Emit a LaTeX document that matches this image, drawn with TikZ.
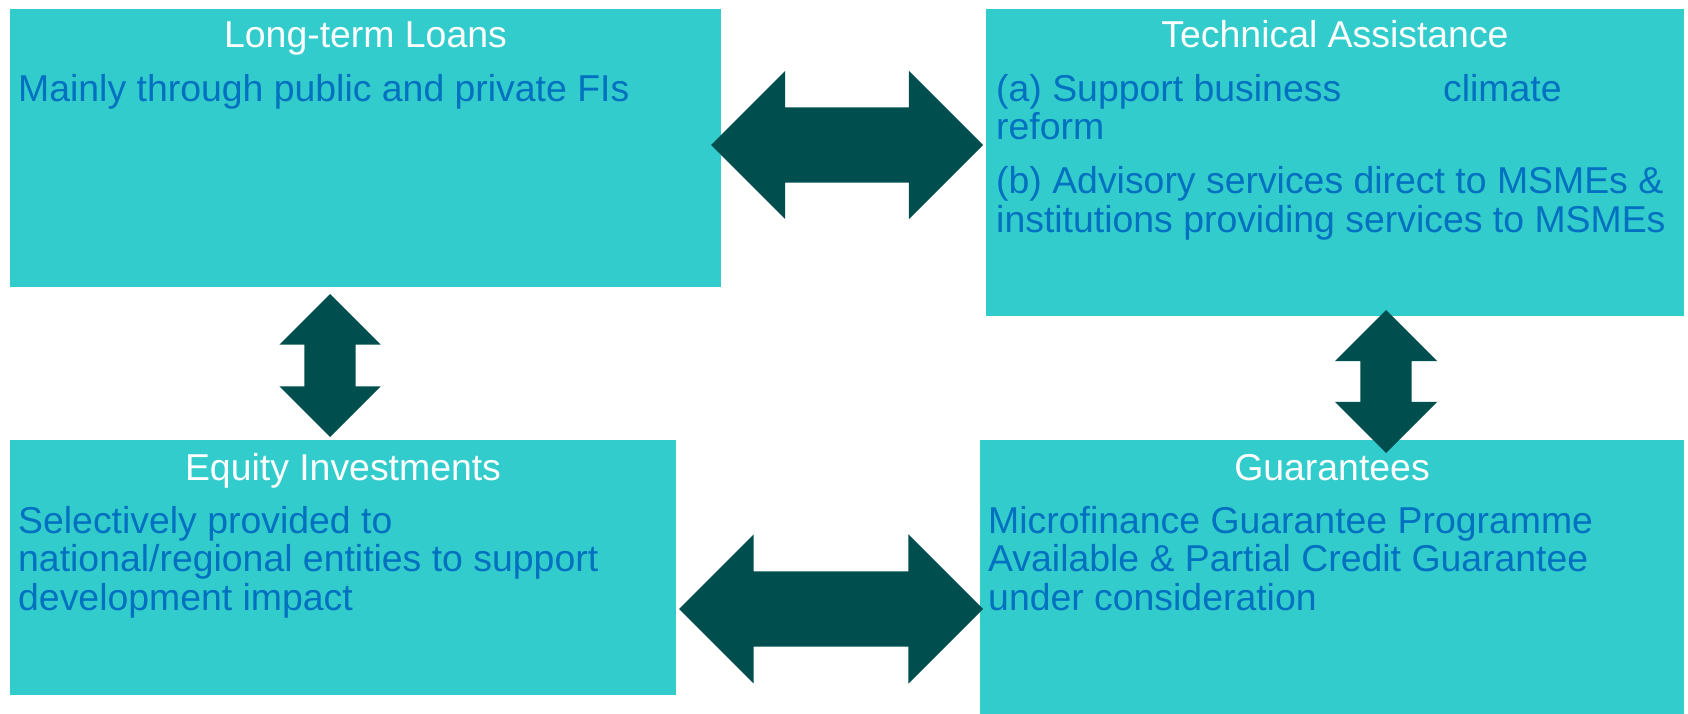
\documentclass[tikz,border=0pt]{standalone}
\usepackage{fontspec}
\setmainfont{Liberation Sans}
\usetikzlibrary{shapes.arrows}
\definecolor{panelcyan}{RGB}{51,204,204}
\definecolor{arrowteal}{RGB}{1,78,78}
\definecolor{bodyblue}{RGB}{0,112,192}

\begin{document}
\begin{tikzpicture}[x=1pt, y=-1pt,
  panel/.style={rectangle, fill=panelcyan, inner sep=0, anchor=north west},
  paneltitle/.style={text=white, anchor=base, inner sep=0, font=\fontsize{37.4}{38.5}\selectfont},
  panelbody/.style={text=bodyblue, anchor=north west, inner sep=0, align=left, font=\fontsize{37.4}{38.5}\selectfont},
  link/.style={double arrow, fill=arrowteal, inner xsep=0, double arrow head extend=#1}]
\useasboundingbox (0,0) rectangle (1688,714);
% Panels
\node[panel, minimum width=711, minimum height=278] (loans) at (10,9) {};
\node[panel, minimum width=698, minimum height=307] (assist) at (986,9) {};
\node[panel, minimum width=666, minimum height=255] (equity) at (10,440) {};
\node[panel, minimum width=704, minimum height=274] (guar) at (980,440) {};
% Titles
\node[paneltitle] (loanst) at (365.5,48) {Long-term Loans};
\node[paneltitle] (assistt) at (1335,48) {Technical Assistance};
\node[paneltitle] (equityt) at (343,480) {Equity Investments};
\node[paneltitle] (guart) at (1332,480) {Guarantees};
% Texts
\node[panelbody] (loansb) at (18,74) {Mainly through public and private FIs};
\node[panelbody] (assistb) at (996,74) {\makebox[447pt][l]{(a) Support business}climate\\reform\\[15.5pt](b) Advisory services direct to MSMEs \&\\institutions providing services to MSMEs};
\node[panelbody] (equityb) at (18,506) {Selectively provided to\\national/regional entities to support\\development impact};
\node[panelbody] (guarb) at (988,506) {Microfinance Guarantee Programme\\Available \& Partial Credit Guarantee\\under consideration};
% Arrows (shaft = 2 x inner ysep)
\node[link=36.5, inner ysep=37.5, minimum height=272] (loansassist) at (847,145) {};
\node[link=37, inner ysep=37.5, minimum height=304] (equityguar) at (831,609) {};
\node[link=25, inner ysep=25.5, minimum height=143, rotate=90] (loansequity) at (330,365.5) {};
\node[link=25.5, inner ysep=25.5, minimum height=143, rotate=90] (assistguar) at (1386,381.5) {};
\end{tikzpicture}
\end{document}
